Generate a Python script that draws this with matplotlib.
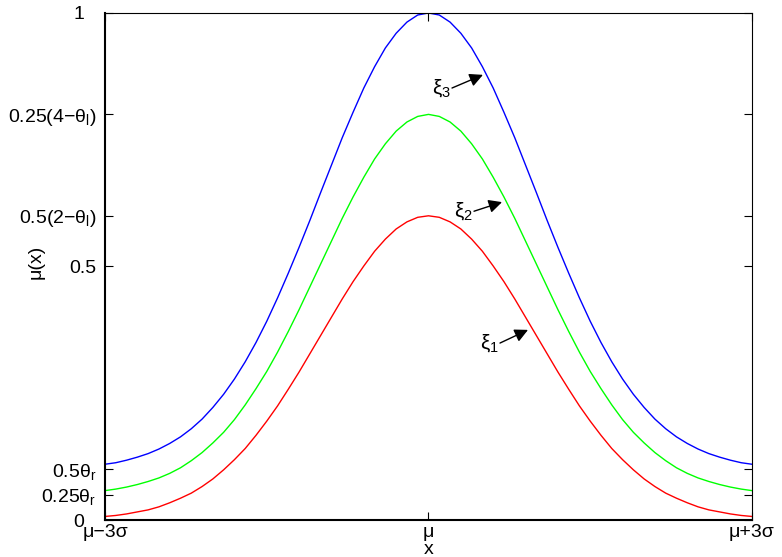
import matplotlib
matplotlib.use('Agg')
import matplotlib.pyplot as plt
import matplotlib.transforms as mtransforms
import numpy as np

plt.rcParams['font.family'] = ['Liberation Sans', 'DejaVu Sans']
plt.rcParams['mathtext.fontset'] = 'custom'
plt.rcParams['mathtext.rm'] = 'Liberation Sans'
plt.rcParams['mathtext.it'] = 'Liberation Sans:italic'
plt.rcParams['font.size'] = 14

# sample grid, x in units of sigma around mu
x = np.linspace(-3, 3, 61)

xi1 = [0.007, 0.009, 0.012, 0.016, 0.020, 0.026, 0.034, 0.043, 0.053, 0.066,
       0.081, 0.099, 0.119, 0.141, 0.167, 0.195, 0.225, 0.258, 0.292, 0.328,
       0.364, 0.400, 0.436, 0.470, 0.501, 0.530, 0.554, 0.574, 0.588, 0.597,
       0.600,
       0.597, 0.588, 0.574, 0.554, 0.530, 0.501, 0.470, 0.436, 0.400, 0.364,
       0.328, 0.292, 0.258, 0.225, 0.195, 0.167, 0.141, 0.119, 0.099, 0.081,
       0.066, 0.053, 0.043, 0.034, 0.026, 0.020, 0.016, 0.012, 0.009, 0.007]
xi2 = [0.058, 0.061, 0.065, 0.070, 0.076, 0.083, 0.092, 0.103, 0.117, 0.133,
       0.152, 0.173, 0.198, 0.227, 0.259, 0.293, 0.331, 0.372, 0.415, 0.460,
       0.505, 0.550, 0.595, 0.637, 0.676, 0.712, 0.742, 0.767, 0.785, 0.796,
       0.800,
       0.796, 0.785, 0.767, 0.742, 0.712, 0.676, 0.637, 0.595, 0.550, 0.505,
       0.460, 0.415, 0.372, 0.331, 0.293, 0.259, 0.227, 0.198, 0.173, 0.152,
       0.133, 0.117, 0.103, 0.092, 0.083, 0.076, 0.070, 0.065, 0.061, 0.058]
xi3 = [0.110, 0.113, 0.118, 0.124, 0.131, 0.140, 0.151, 0.164, 0.180, 0.199,
       0.222, 0.248, 0.278, 0.312, 0.350, 0.392, 0.438, 0.487, 0.538, 0.591,
       0.646, 0.700, 0.754, 0.804, 0.852, 0.894, 0.931, 0.960, 0.982, 0.996,
       1.000,
       0.996, 0.982, 0.960, 0.931, 0.894, 0.852, 0.804, 0.754, 0.700, 0.646,
       0.591, 0.538, 0.487, 0.438, 0.392, 0.350, 0.312, 0.278, 0.248, 0.222,
       0.199, 0.180, 0.164, 0.151, 0.140, 0.131, 0.124, 0.118, 0.113, 0.110]

ytick_vals = [0, 0.05, 0.1, 0.5, 0.6, 0.8, 1.0]
ytick_labels = ['0', '0.25θ$_\\mathrm{r}$', '0.5θ$_\\mathrm{r}$', '0.5',
                '0.5(2−θ$_\\mathrm{l}$)', '0.25(4−θ$_\\mathrm{l}$)', '1']
xtick_vals = [-3, 0, 3]
xtick_labels = ['μ−3σ', 'μ', 'μ+3σ']

fig = plt.figure(figsize=(7.82, 5.57), dpi=100)
ax = fig.add_axes([0.1343, 0.0664, 0.8273, 0.9103])

ax.plot(x, xi1, color='red', lw=1)
ax.plot(x, xi2, color='#00ff00', lw=1)
ax.plot(x, xi3, color='blue', lw=1)

ax.set_xlim(-3, 3)
ax.set_ylim(0, 1)
ax.set_xticks(xtick_vals)
ax.set_xticklabels(xtick_labels)
ax.set_yticks(ytick_vals)
ax.set_yticklabels(ytick_labels)
ax.tick_params(direction='in', length=6, top=True, right=True)
ax.tick_params(axis='y', pad=6)
ax.tick_params(axis='x', pad=3)
for s in ['left', 'bottom']:
    ax.spines[s].set_linewidth(1.5)
for s in ['top', 'right']:
    ax.spines[s].set_linewidth(0.8)

# plain "0" and "1" sit a bit further left, like the original
shift = mtransforms.ScaledTranslation(-9 / 72, 0, fig.dpi_scale_trans)
for lab in ax.get_yticklabels():
    if lab.get_text() in ('0', '1'):
        lab.set_transform(lab.get_transform() + shift)

ax.set_ylabel('μ(x)')
ax.yaxis.set_label_coords(-0.094, 0.51)
ax.set_xlabel('x', va='center')
ax.xaxis.set_label_coords(0.5, -0.058)

arrow = dict(arrowstyle='-|>', color='black', lw=1, mutation_scale=20,
             shrinkA=0, shrinkB=0)
labels = [('ξ$_3$', (0.505, 0.878), (0.218, 0.852)),
          ('ξ$_2$', (0.682, 0.627), (0.422, 0.609)),
          ('ξ$_1$', (0.923, 0.375), (0.663, 0.349))]
for txt, tip, tail in labels:
    ax.annotate('', xy=tip, xytext=tail, arrowprops=arrow)
    ax.text(tail[0] - 0.01, tail[1], txt, ha='right', va='center', fontsize=15)

fig.savefig('out.png', dpi=100)
